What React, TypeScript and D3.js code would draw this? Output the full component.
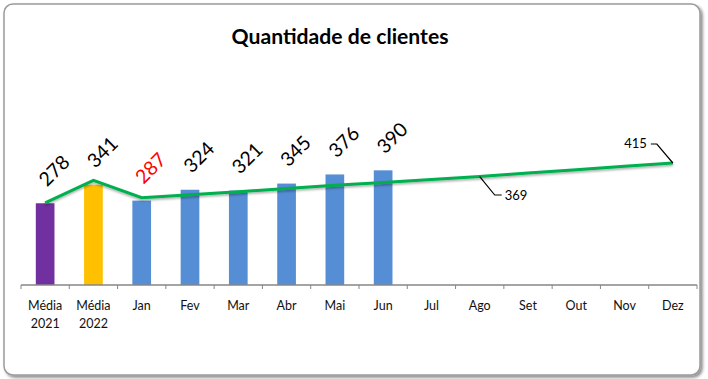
import React from "react";
import * as d3 from "d3";

const categories = ["Média\n2021", "Média\n2022", "Jan", "Fev", "Mar", "Abr", "Mai", "Jun", "Jul", "Ago", "Set", "Out", "Nov", "Dez"];
const barValues: (number | null)[] = [278, 341, 287, 324, 321, 345, 376, 390, null, null, null, null, null, null];
const barColors = ["#7030a0", "#ffc000", "#558ed5", "#558ed5", "#558ed5", "#558ed5", "#558ed5", "#558ed5"];
const barLabelColors = ["#000", "#000", "#ff0000", "#000", "#000", "#000", "#000", "#000"];
const lineValues = [279, 356, 297, 307, 317, 328, 339, 349, 359, 369, 381, 392, 404, 415];
const lineLabelIdx = [9, 13];

const W = 708, H = 379;

export default function App() {
  const x = d3.scaleBand<string>().domain(categories).range([21, 697]).paddingInner(0.613).paddingOuter(0.3065);
  const step = x.step();
  const y = d3.scaleLinear().domain([0, 500]).range([285, 285 - 147]);
  const cx = (c: string) => (x(c) as number) + x.bandwidth() / 2;
  const line = d3.line<number>().x((_, i) => cx(categories[i])).y((v) => y(v));
  const pathD = line(lineValues) || "";
  const font = "Lato, 'Open Sans', sans-serif";

  const ago = categories[lineLabelIdx[0]];
  const dez = categories[lineLabelIdx[1]];
  const agoX = cx(ago), agoY = y(lineValues[lineLabelIdx[0]]);
  const dezX = cx(dez), dezY = y(lineValues[lineLabelIdx[1]]);

  return (
    <svg width={W} height={H} style={{ position: "absolute", left: 0, top: 0, background: "#fff" }}>
      <defs>
        <filter id="shadow" x="-10%" y="-10%" width="120%" height="120%">
          <feDropShadow dx="2" dy="2" stdDeviation="1.5" floodColor="#000" floodOpacity="0.45" />
        </filter>
        <filter id="lshadow" x="-5%" y="-20%" width="110%" height="140%">
          <feDropShadow dx="0" dy="1.5" stdDeviation="0.8" floodColor="#000" floodOpacity="0.35" />
        </filter>
      </defs>
      <rect x={4} y={4} width={696} height={371} rx={9} fill="#fff" stroke="#9a9a9a" strokeWidth={1.5} filter="url(#shadow)" />
      <text x={340} y={44} textAnchor="middle" fontFamily={font} fontWeight="bold" fontSize={20} textLength={217} lengthAdjust="spacingAndGlyphs" fill="#000">
        Quantidade de clientes
      </text>
      {barValues.map((v, i) =>
        v == null ? null : (
          <rect key={"b" + i} x={x(categories[i])} y={y(v)} width={x.bandwidth()} height={y(0) - y(v)} fill={barColors[i]} />
        )
      )}
      <path d={pathD} fill="none" stroke="#00b050" strokeWidth={3} filter="url(#lshadow)" />
      {/* axis */}
      <line x1={21} x2={697} y1={285} y2={285} stroke="#868686" strokeWidth={1.5} />
      {d3.range(categories.length + 1).map((i) => (
        <line key={"t" + i} x1={21 + i * step} x2={21 + i * step} y1={285} y2={289} stroke="#868686" strokeWidth={1} />
      ))}
      {categories.map((c, i) => {
        const parts = c.split("\n");
        return (
          <text key={"c" + i} x={cx(c)} y={309.5} textAnchor="middle" fontFamily={font} fontSize={12.5} fill="#111">
            {parts.map((p, j) => (
              <tspan key={j} x={cx(c)} dy={j === 0 ? 0 : 18.5}>{p}</tspan>
            ))}
          </text>
        );
      })}
      {barValues.map((v, i) =>
        v == null ? null : (
          <text key={"l" + i} transform={`translate(${cx(categories[i]) + 8.5},${y(v) - 33}) rotate(-45)`} textAnchor="middle" dominantBaseline="central" fontFamily={font} fontSize={19.5} fill={barLabelColors[i]}>
            {v}
          </text>
        )
      )}
      {/* line data labels with leaders */}
      <polyline points={`${agoX},${agoY} ${agoX + 15},${agoY + 18.5} ${agoX + 22},${agoY + 18.5}`} fill="none" stroke="#000" strokeWidth={1.2} />
      <text x={agoX + 25} y={agoY + 23} fontFamily={font} fontSize={13} fill="#000">{lineValues[lineLabelIdx[0]]}</text>
      <polyline points={`${dezX},${dezY} ${dezX - 16},${dezY - 19} ${dezX - 22},${dezY - 19}`} fill="none" stroke="#000" strokeWidth={1.2} />
      <text x={dezX - 26} y={dezY - 14.5} textAnchor="end" fontFamily={font} fontSize={13} fill="#000">{lineValues[lineLabelIdx[1]]}</text>
    </svg>
  );
}
